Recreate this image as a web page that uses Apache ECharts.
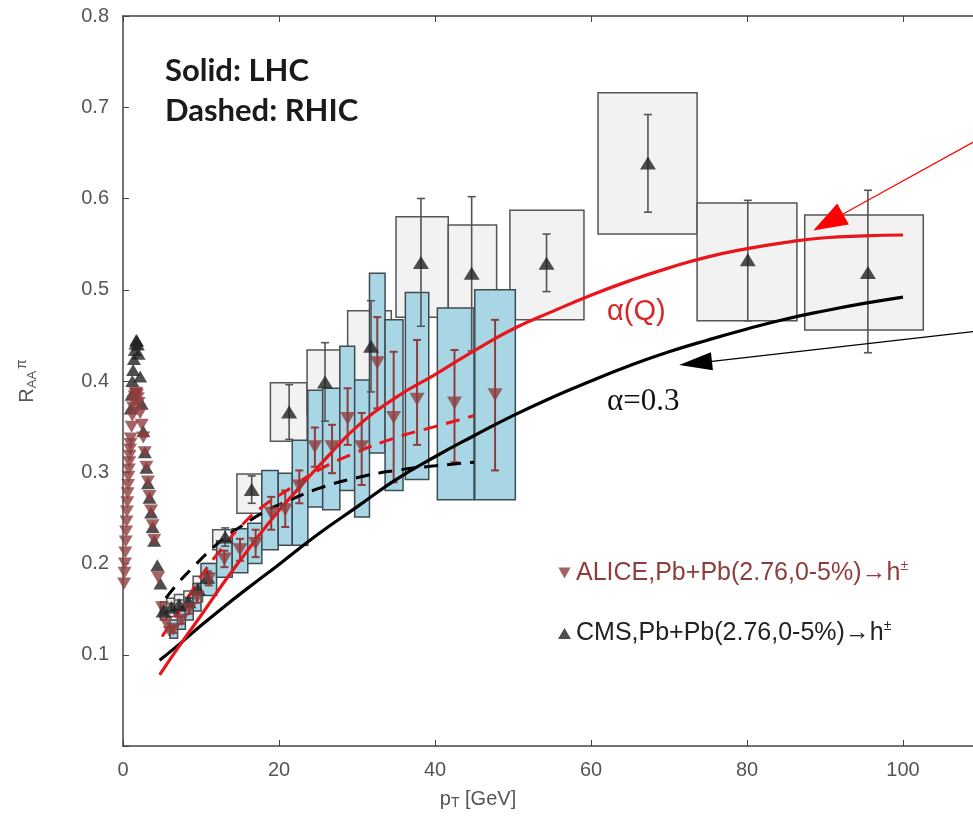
<!DOCTYPE html>
<html><head><meta charset="utf-8">
<script src="https://cdn.jsdelivr.net/npm/echarts@6/dist/echarts.min.js"></script>
<style>html,body{margin:0;padding:0;background:#fff}#c{width:973px;height:823px}</style>
</head><body><div id="c"></div>
<script>
// ---------- DATA ----------
const xTickValues = [0, 20, 40, 60, 80, 100];
const yTickLabels = ['0.1','0.2','0.3','0.4','0.5','0.6','0.7','0.8'];

// ALICE low-pT (dense) points
const aliceLowPt = [0.15,0.2,0.25,0.3,0.35,0.4,0.45,0.5,0.55,0.6,0.65,0.7,0.75,0.8,0.85,0.9,0.95,1.0,1.1,1.2,1.3,1.4,1.5,1.6,1.7,1.8,1.9,2.0,2.2,2.4,2.6,2.8,3.0,3.2,3.4,3.6,3.8,4.0,4.5,5.0,5.5,6.0];
const aliceLowR  = [0.178,0.19,0.2,0.212,0.224,0.235,0.246,0.257,0.267,0.277,0.286,0.295,0.303,0.311,0.318,0.325,0.331,0.337,0.35,0.362,0.371,0.378,0.383,0.386,0.387,0.385,0.381,0.376,0.365,0.352,0.338,0.322,0.306,0.29,0.274,0.258,0.242,0.226,0.185,0.152,0.135,0.125];

// CMS low-pT (dense) points
const cmsLowPt = [1.0,1.1,1.2,1.3,1.4,1.5,1.6,1.7,1.8,1.9,2.0,2.2,2.4,2.6,2.8,3.0,3.2,3.4,3.6,3.8,4.0,4.4,4.8];
const cmsLowR  = [0.37,0.385,0.4,0.412,0.424,0.434,0.441,0.445,0.444,0.44,0.43,0.405,0.375,0.345,0.322,0.305,0.288,0.272,0.256,0.24,0.225,0.198,0.178];

// ALICE points with stat. errors and syst. boxes
const alicePt    = [6.5,7.5,8.5,9.5,11,13,15,17,19,20.8,22.6,24.6,26.8,28.8,30.6,32.6,34.7,37.7,42.5,47.7];
const aliceR     = [0.128,0.138,0.15,0.163,0.183,0.205,0.215,0.222,0.255,0.259,0.285,0.328,0.328,0.359,0.328,0.42,0.36,0.38,0.376,0.385];
const aliceErrLo = [0.124,0.134,0.145,0.157,0.176,0.196,0.203,0.207,0.237,0.24,0.266,0.306,0.299,0.33,0.286,0.37,0.289,0.33,0.311,0.302];
const aliceErrHi = [0.132,0.142,0.155,0.169,0.19,0.214,0.227,0.237,0.273,0.28,0.302,0.349,0.352,0.392,0.365,0.47,0.432,0.445,0.434,0.467];
const aliceBoxXLo= [6,7,8,9,10,12,14,16,17.8,19.9,21.7,23.7,25.6,27.8,29.7,31.6,33.6,36.2,40.3,45.1];
const aliceBoxXHi= [7,8,9,10,12,14,16,17.8,19.9,21.7,23.7,25.6,27.8,29.7,31.6,33.6,35.9,39.2,45.0,50.3];
const aliceBoxYLo= [0.118,0.128,0.138,0.148,0.165,0.185,0.19,0.2,0.215,0.22,0.22,0.262,0.259,0.28,0.251,0.321,0.28,0.292,0.27,0.27];
const aliceBoxYHi= [0.138,0.148,0.162,0.178,0.2,0.225,0.238,0.244,0.302,0.299,0.335,0.39,0.392,0.438,0.401,0.518,0.467,0.497,0.48,0.50];

// CMS points with stat. errors and syst. boxes
const cmsPt    = [5.2,6.2,7.2,8.4,9.6,10.8,13.1,16.5,21.3,25.9,31.8,38.2,44.7,54.3,67.3,80.1,95.5];
const cmsR     = [0.148,0.152,0.155,0.158,0.172,0.185,0.229,0.281,0.366,0.399,0.438,0.530,0.518,0.529,0.639,0.533,0.519];
const cmsErrLo = [0.144,0.148,0.15,0.153,0.166,0.178,0.219,0.266,0.336,0.356,0.388,0.46,0.433,0.498,0.585,0.466,0.431];
const cmsErrHi = [0.152,0.156,0.16,0.163,0.178,0.192,0.239,0.296,0.396,0.442,0.488,0.60,0.602,0.561,0.692,0.598,0.609];
const cmsBoxXLo= [4.8,5.6,6.6,7.8,9.0,10.2,11.5,14.6,18.9,23.6,28.8,35.0,41.7,49.6,60.9,73.6,87.4];
const cmsBoxXHi= [5.6,6.6,7.8,9.0,10.2,11.5,14.1,17.8,23.6,28.7,34.4,41.7,47.9,59.1,73.6,86.4,102.6];
const cmsBoxYLo= [0.138,0.142,0.144,0.146,0.158,0.17,0.215,0.255,0.334,0.364,0.40,0.47,0.46,0.467,0.561,0.466,0.456];
const cmsBoxYHi= [0.158,0.162,0.166,0.17,0.186,0.2,0.237,0.298,0.398,0.434,0.477,0.580,0.571,0.587,0.716,0.595,0.582];

// Model curves
const lhcAlphaQPt = [4.7,7,10,13,17,20,23,26,30,35,40,45,50,55,60,65,70,75,80,85,90,95,100];
const lhcAlphaQR  = [0.078,0.107,0.143,0.18,0.226,0.258,0.287,0.315,0.35,0.382,0.407,0.433,0.457,0.476,0.494,0.51,0.524,0.536,0.545,0.552,0.557,0.559,0.56];
const lhcAlpha03Pt = [4.7,7,10,13,16,20,25,30,35,40,45,50,55,60,65,70,75,80,85,90,95,100];
const lhcAlpha03R  = [0.094,0.110,0.132,0.153,0.173,0.199,0.232,0.262,0.292,0.317,0.34,0.362,0.382,0.400,0.417,0.432,0.445,0.457,0.468,0.477,0.485,0.492];
const rhicAlphaQPt = [5,7,9,11,13,15,18,21,25,30,35,40,45];
const rhicAlphaQR  = [0.12,0.145,0.172,0.198,0.22,0.24,0.263,0.28,0.302,0.322,0.338,0.35,0.362];
const rhicAlpha03Pt = [5.5,7,9,11,13,15,18,21,25,30,35,40,45];
const rhicAlpha03R  = [0.162,0.178,0.196,0.213,0.228,0.24,0.256,0.268,0.282,0.294,0.302,0.307,0.311];

// Annotation arrows: [tailX, tailY, tipX, tipY]
const redArrow = [112, 0.676, 88.5, 0.565];
const blackArrow = [112, 0.457, 71.3, 0.4175];

const ALICE_NAME = 'ALICE,Pb+Pb(2.76,0-5%)→h±';
const CMS_NAME = 'CMS,Pb+Pb(2.76,0-5%)→h±';

// ---------- helpers ----------
const zip = (a, b) => a.map((v, i) => [v, b[i]]);
const boxData = (xl, xh, yl, yh) => xl.map((v, i) => [v, xh[i], yl[i], yh[i]]);
const errData = (x, lo, hi) => x.map((v, i) => [v, lo[i], hi[i]]);

function boxRender(fill, stroke) {
  return function (params, api) {
    const p1 = api.coord([api.value(0), api.value(3)]);
    const p2 = api.coord([api.value(1), api.value(2)]);
    return { type: 'rect',
      shape: { x: p1[0], y: p1[1], width: p2[0] - p1[0], height: p2[1] - p1[1] },
      style: { fill: fill, stroke: stroke, lineWidth: 1.5 } };
  };
}
function errRender(color, width, cap) {
  return function (params, api) {
    const x = api.value(0);
    const t = api.coord([x, api.value(2)]);
    const b = api.coord([x, api.value(1)]);
    const st = { stroke: color, lineWidth: width };
    return { type: 'group', children: [
      { type: 'line', shape: { x1: t[0], y1: t[1], x2: b[0], y2: b[1] }, style: st },
      { type: 'line', shape: { x1: t[0] - cap, y1: t[1], x2: t[0] + cap, y2: t[1] }, style: st },
      { type: 'line', shape: { x1: b[0] - cap, y1: b[1], x2: b[0] + cap, y2: b[1] }, style: st }
    ] };
  };
}
function arrowRender(color, headLen, headW) {
  return function (params, api) {
    const p1 = api.coord([api.value(0), api.value(1)]);
    const p2 = api.coord([api.value(2), api.value(3)]);
    const dx = p2[0] - p1[0], dy = p2[1] - p1[1];
    const L = Math.sqrt(dx * dx + dy * dy);
    const ux = dx / L, uy = dy / L, nx = -uy, ny = ux;
    const bx = p2[0] - ux * headLen, by = p2[1] - uy * headLen;
    return { type: 'group', children: [
      { type: 'line', shape: { x1: p1[0], y1: p1[1], x2: bx, y2: by }, style: { stroke: color, lineWidth: 1.2 } },
      { type: 'polygon', shape: { points: [[p2[0], p2[1]], [bx + nx * headW / 2, by + ny * headW / 2], [bx - nx * headW / 2, by - ny * headW / 2]] },
        style: { fill: color } }
    ] };
  };
}

const RED = '#e8161c';
const BROWN = '#8e3d3d';
const AXIS = '#444';

const chart = echarts.init(document.getElementById('c'), null, { renderer: 'canvas' });
chart.setOption({
  animation: false,
  backgroundColor: '#fff',
  grid: { left: 123, top: 16, width: 936, height: 730, outerBoundsMode: 'none', containLabel: false },
  legend: {
    left: 553, top: 554, orient: 'vertical', itemGap: 34, itemWidth: 13, itemHeight: 11,
    selectedMode: false,
    textStyle: { fontFamily: 'Liberation Sans', fontSize: 25, color: '#222',
      rich: { sup: { fontSize: 14, verticalAlign: 'top', padding: [0, 0, 14, 0] } } },
    formatter: function (n) { return n.replace('±', '{sup|±}'); },
    data: [
      { name: ALICE_NAME, icon: 'path://M0,0L10,0L5,9Z', itemStyle: { color: BROWN }, textStyle: { color: BROWN } },
      { name: CMS_NAME, icon: 'triangle', itemStyle: { color: '#222' }, textStyle: { color: '#222' } }
    ]
  },
  xAxis: [{
    type: 'value', min: 0, max: 120, interval: 20, position: 'bottom',
    axisLine: { show: true, onZero: false, lineStyle: { color: AXIS, width: 1.5 } },
    axisTick: { show: true, inside: true, length: 6, lineStyle: { color: AXIS } },
    splitLine: { show: false },
    axisLabel: { fontSize: 20, fontFamily: 'Liberation Sans', margin: 14, showMaxLabel: false,
      color: v => (Number(v) > 100 ? 'rgba(0,0,0,0)' : '#555'),
      formatter: v => (xTickValues.indexOf(v) >= 0 ? String(v) : '') },
    name: 'p{sub|T} [GeV]', nameLocation: 'middle', nameGap: 42,
    nameTextStyle: { color: '#555', fontSize: 20, fontFamily: 'Liberation Sans', padding: [0, 226, 0, 0],
      rich: { sub: { fontSize: 14, verticalAlign: 'bottom', padding: [8, 0, 0, 0] } } }
  }, {
    type: 'value', min: 0, max: 120, interval: 20, position: 'top',
    axisLine: { show: true, onZero: false, lineStyle: { color: AXIS, width: 1.5 } },
    axisTick: { show: true, inside: true, length: 6, lineStyle: { color: AXIS } },
    axisLabel: { show: false }, splitLine: { show: false }
  }],
  yAxis: {
    type: 'value', min: 0, max: 0.8, interval: 0.1,
    axisLine: { show: true, onZero: false, lineStyle: { color: AXIS, width: 1.5 } },
    axisTick: { show: true, inside: true, length: 6, lineStyle: { color: AXIS } },
    splitLine: { show: false },
    axisLabel: { color: '#555', fontSize: 20, fontFamily: 'Liberation Sans', margin: 14,
      formatter: v => { const i = Math.round(v * 10) - 1; return i >= 0 ? yTickLabels[i] : ''; } },
    name: 'R{sub|AA}{sup|π}', nameLocation: 'middle', nameGap: 84, nameRotate: 90,
    nameTextStyle: { color: '#555', fontSize: 20, fontFamily: 'Liberation Sans',
      rich: { sub: { fontSize: 13, verticalAlign: 'bottom', padding: [8, 0, 0, 0] },
              sup: { fontSize: 14, verticalAlign: 'top', padding: [0, 0, 10, 2] } } }
  },
  graphic: [
    { type: 'text', z: 100, left: 165, top: 55, style: { text: 'Solid: LHC', font: 'bold 31px Lato', fill: '#1a1a1a' } },
    { type: 'text', z: 100, left: 165, top: 95, style: { text: 'Dashed: RHIC', font: 'bold 31px Lato', fill: '#1a1a1a' } },
    { type: 'text', z: 100, left: 607, top: 297, style: { text: 'α(Q)', font: '29px Liberation Sans', fill: '#d9262b' } },
    { type: 'text', z: 100, left: 607, top: 386, style: { text: 'α=0.3', font: '31px Liberation Serif', fill: '#111' } }
  ],
  series: [
    { type: 'custom', name: 'CMS syst', renderItem: boxRender('#f2f2f2', '#555'), data: boxData(cmsBoxXLo, cmsBoxXHi, cmsBoxYLo, cmsBoxYHi), z: 1, silent: true },
    { type: 'custom', name: 'ALICE syst', renderItem: boxRender('#a9d6e5', '#3e4b50'), data: boxData(aliceBoxXLo, aliceBoxXHi, aliceBoxYLo, aliceBoxYHi), z: 2, silent: true },
    { type: 'custom', name: 'CMS stat', renderItem: errRender('#555', 1.6, 4), data: errData(cmsPt, cmsErrLo, cmsErrHi), z: 3, silent: true },
    { type: 'custom', name: 'ALICE stat', renderItem: errRender(BROWN, 2, 4), data: errData(alicePt, aliceErrLo, aliceErrHi), z: 3, silent: true },
    { type: 'line', name: 'RHIC alpha=0.3', data: zip(rhicAlpha03Pt, rhicAlpha03R), smooth: true, showSymbol: false, z: 4,
      lineStyle: { color: '#000', width: 3, type: [14, 9] } },
    { type: 'line', name: 'RHIC alpha(Q)', data: zip(rhicAlphaQPt, rhicAlphaQR), smooth: true, showSymbol: false, z: 4,
      lineStyle: { color: RED, width: 3, type: [14, 9] } },
    { type: 'line', name: 'LHC alpha=0.3', data: zip(lhcAlpha03Pt, lhcAlpha03R), smooth: true, showSymbol: false, z: 4,
      lineStyle: { color: '#000', width: 3.2 } },
    { type: 'line', name: 'LHC alpha(Q)', data: zip(lhcAlphaQPt, lhcAlphaQR), smooth: true, showSymbol: false, z: 4,
      lineStyle: { color: RED, width: 3.2 } },
    { type: 'scatter', name: CMS_NAME, data: zip(cmsLowPt, cmsLowR), symbol: 'triangle', symbolSize: [14, 12], z: 5,
      itemStyle: { color: '#222' } },
    { type: 'scatter', name: ALICE_NAME, data: zip(aliceLowPt, aliceLowR), symbol: 'triangle', symbolRotate: 180, symbolSize: [14, 12], z: 6,
      itemStyle: { color: BROWN } },
    { type: 'scatter', name: CMS_NAME, data: zip(cmsPt, cmsR), symbol: 'triangle', symbolSize: [16, 13], z: 6,
      itemStyle: { color: '#222' } },
    { type: 'scatter', name: ALICE_NAME, data: zip(alicePt, aliceR), symbol: 'triangle', symbolRotate: 180, symbolSize: [15, 13], z: 6,
      itemStyle: { color: BROWN } },
    { type: 'custom', name: 'arrow red', renderItem: arrowRender('#ff0000', 34, 24), data: [redArrow], z: 7, silent: true },
    { type: 'custom', name: 'arrow black', renderItem: arrowRender('#000', 33, 18), data: [blackArrow], z: 7, silent: true }
  ]
});
</script></body></html>
